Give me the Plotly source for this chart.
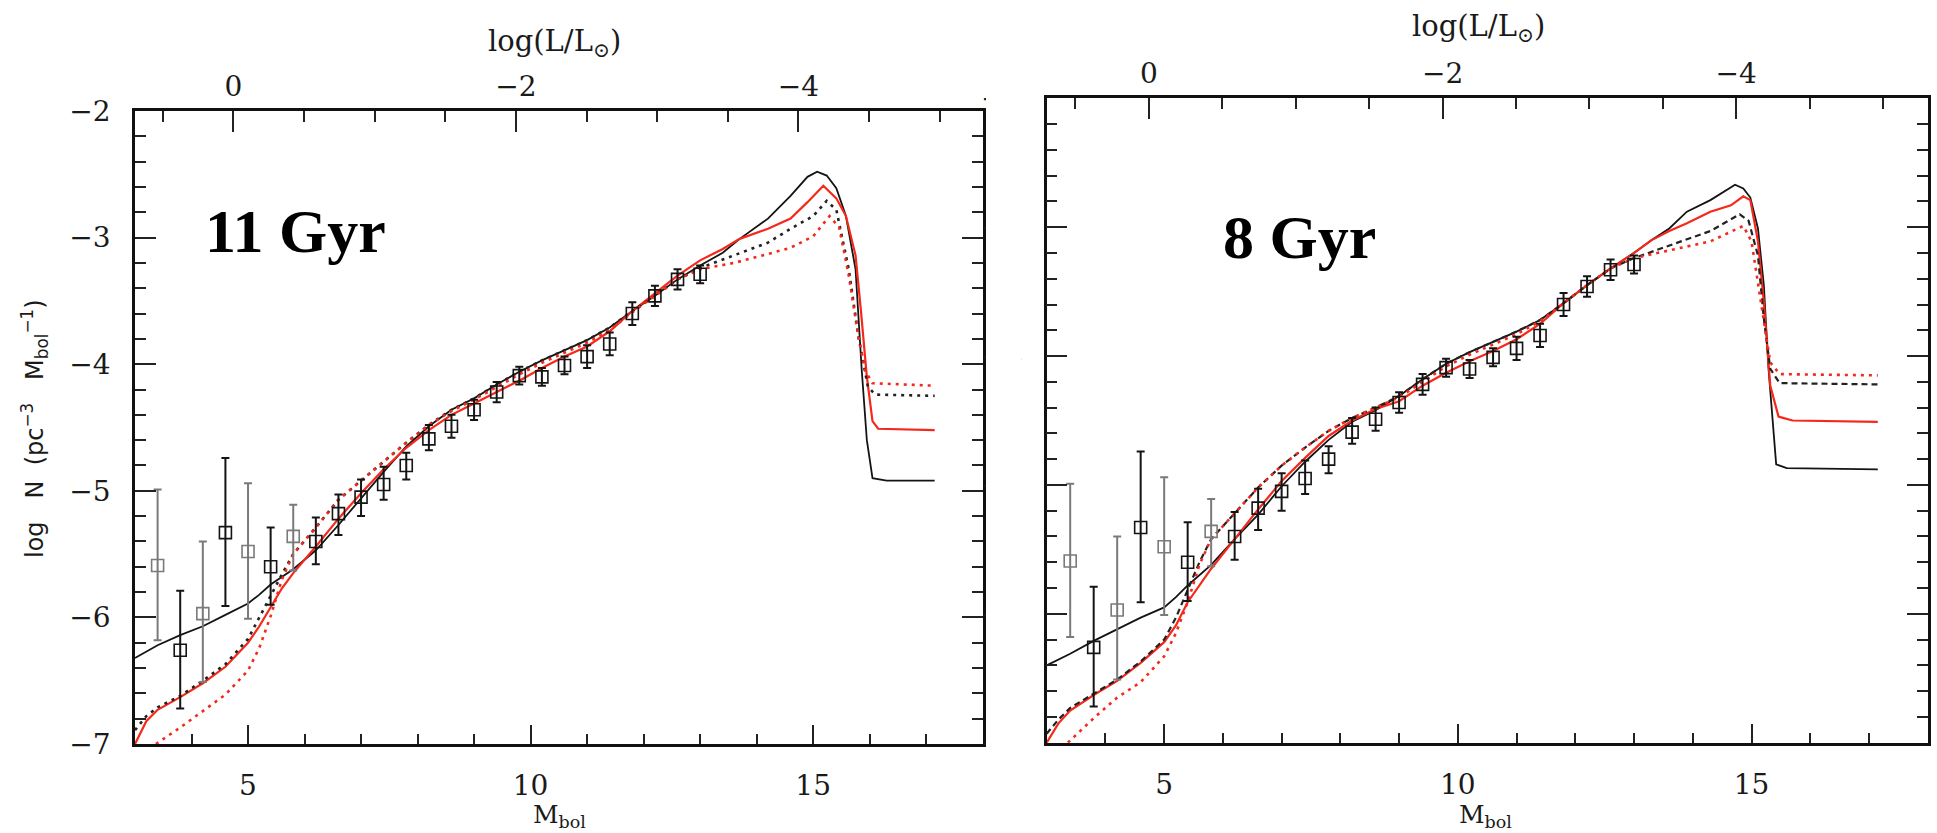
import plotly.graph_objects as go

W, H = 1937, 833

# ---------------- observed luminosity function (same in both panels) ----------------
obs_mbol = [3.4, 3.8, 4.2, 4.6, 5.0, 5.4, 5.8, 6.2, 6.6, 7.0, 7.4, 7.8, 8.2,
            8.6, 9.0, 9.4, 9.8, 10.2, 10.6, 11.0, 11.4, 11.8, 12.2, 12.6, 13.0]
obs_logn = [-5.59, -6.26, -5.97, -5.33, -5.48, -5.60, -5.36, -5.40, -5.18, -5.05, -4.95, -4.80, -4.59,
            -4.49, -4.36, -4.22, -4.09, -4.10, -4.01, -3.94, -3.84, -3.60, -3.46, -3.33, -3.29]
obs_err_plus = [0.60, 0.47, 0.57, 0.59, 0.54, 0.31, 0.25, 0.19, 0.15, 0.14, 0.14, 0.10, 0.11,
                0.09, 0.08, 0.08, 0.07, 0.07, 0.07, 0.09, 0.09, 0.09, 0.08, 0.08, 0.07]
obs_err_minus = [0.59, 0.46, 0.54, 0.58, 0.53, 0.30, 0.27, 0.18, 0.17, 0.15, 0.12, 0.11, 0.09,
                 0.09, 0.08, 0.08, 0.07, 0.07, 0.07, 0.09, 0.09, 0.09, 0.08, 0.08, 0.07]

# ---------------- 11 Gyr models ----------------
a11_black_solid_m = [3.0, 3.4, 3.8, 4.2, 4.6, 5.0, 5.2, 5.4, 5.8, 6.2, 6.6, 7.0, 7.4, 7.8, 8.2, 8.6, 9.0,
                     9.4, 9.8, 10.2, 10.6, 11.0, 11.4, 11.8, 12.2, 12.6, 13.0, 13.4, 13.7, 14.2, 14.6,
                     14.9, 15.07, 15.24, 15.41, 15.58, 15.75, 15.86, 15.95, 16.05, 16.3, 17.15]
a11_black_solid_n = [-6.32, -6.22, -6.14, -6.07, -5.98, -5.89, -5.82, -5.74, -5.62, -5.47, -5.27, -5.06,
                     -4.85, -4.65, -4.49, -4.36, -4.27, -4.16, -4.06, -3.97, -3.89, -3.81, -3.71, -3.58,
                     -3.46, -3.33, -3.22, -3.12, -3.01, -2.85, -2.67, -2.52, -2.48, -2.51, -2.61, -2.83,
                     -3.25, -4.05, -4.60, -4.90, -4.92, -4.92]

a11_red_solid_m = [3.0, 3.2, 3.4, 3.8, 4.2, 4.6, 5.0, 5.2, 5.4, 5.6, 5.8, 6.2, 6.6, 7.0, 7.4, 7.8, 8.2,
                   8.6, 9.0, 9.4, 9.8, 10.2, 10.6, 11.0, 11.4, 11.8, 12.2, 12.6, 13.0, 13.4, 13.7, 14.2,
                   14.6, 14.9, 15.18, 15.41, 15.58, 15.75, 15.85, 15.95, 16.05, 16.15, 17.15]
a11_red_solid_n = [-7.0, -6.82, -6.73, -6.63, -6.52, -6.39, -6.20, -6.07, -5.92, -5.77, -5.65, -5.44,
                   -5.22, -5.02, -4.83, -4.66, -4.52, -4.40, -4.31, -4.22, -4.13, -4.03, -3.94, -3.86,
                   -3.74, -3.58, -3.44, -3.30, -3.18, -3.09, -3.01, -2.93, -2.85, -2.72, -2.59, -2.69,
                   -2.83, -3.14, -3.60, -4.10, -4.45, -4.51, -4.52]

a11_black_dot_m = [3.0, 3.2, 3.4, 3.8, 4.2, 4.6, 5.0, 5.2, 5.4, 5.6, 5.8, 6.2, 6.6, 7.0, 7.4, 7.8, 8.2,
                   8.6, 9.0, 9.4, 9.8, 10.2, 10.6, 11.0, 11.4, 11.8, 12.2, 12.6, 13.0, 13.6, 14.2, 14.6,
                   15.0, 15.24, 15.41, 15.63, 15.8, 15.97, 16.1, 17.15]
a11_black_dot_n = [-6.89, -6.78, -6.71, -6.62, -6.50, -6.37, -6.17, -6.00, -5.82, -5.66, -5.50, -5.29,
                   -5.07, -4.92, -4.77, -4.62, -4.48, -4.36, -4.27, -4.16, -4.06, -3.97, -3.89, -3.81,
                   -3.71, -3.58, -3.46, -3.33, -3.24, -3.14, -3.04, -2.93, -2.83, -2.71, -2.78, -3.25,
                   -3.78, -4.18, -4.24, -4.25]

a11_red_dot_m = [3.37, 3.8, 4.2, 4.6, 5.0, 5.2, 5.4, 5.6, 5.8, 6.2, 6.6, 7.0, 7.4, 7.8, 8.2, 8.6, 9.0,
                 9.4, 9.8, 10.2, 10.6, 11.0, 11.4, 11.8, 12.2, 12.6, 13.0, 13.6, 14.2, 14.6, 15.0, 15.29,
                 15.46, 15.63, 15.8, 15.92, 16.05, 17.15]
a11_red_dot_n = [-7.0, -6.87, -6.74, -6.61, -6.42, -6.24, -5.99, -5.70, -5.50, -5.29, -5.07, -4.92,
                 -4.77, -4.62, -4.48, -4.37, -4.28, -4.18, -4.08, -3.99, -3.91, -3.83, -3.73, -3.59,
                 -3.46, -3.33, -3.25, -3.20, -3.13, -3.08, -2.99, -2.83, -2.92, -3.30, -3.78, -4.05,
                 -4.15, -4.17]

# ---------------- 8 Gyr models ----------------
a8_black_solid_m = [3.0, 3.4, 3.8, 4.2, 4.6, 5.0, 5.2, 5.4, 5.8, 6.2, 6.6, 7.0, 7.4, 7.8, 8.2, 8.6, 9.0,
                    9.4, 9.8, 10.2, 10.6, 11.0, 11.4, 11.8, 12.2, 12.6, 13.0, 13.3, 13.6, 13.9, 14.3,
                    14.72, 14.86, 14.98, 15.11, 15.21, 15.29, 15.42, 15.6, 17.15]
a8_black_solid_n = [-6.40, -6.31, -6.21, -6.12, -6.03, -5.95, -5.87, -5.78, -5.62, -5.42, -5.23, -5.01,
                    -4.82, -4.65, -4.51, -4.42, -4.31, -4.18, -4.06, -3.97, -3.89, -3.81, -3.72, -3.59,
                    -3.45, -3.32, -3.20, -3.10, -3.01, -2.88, -2.79, -2.67, -2.70, -2.77, -3.01, -3.45,
                    -4.10, -4.84, -4.87, -4.88]

a8_red_solid_m = [3.0, 3.2, 3.4, 3.8, 4.2, 4.6, 5.0, 5.2, 5.4, 5.6, 5.8, 6.2, 6.6, 7.0, 7.4, 7.8, 8.2,
                  8.6, 9.0, 9.4, 9.8, 10.2, 10.6, 11.0, 11.4, 11.8, 12.2, 12.6, 13.0, 13.3, 13.6, 13.9,
                  14.3, 14.65, 14.86, 14.98, 15.11, 15.21, 15.32, 15.46, 15.7, 17.15]
a8_red_solid_n = [-7.0, -6.85, -6.75, -6.63, -6.52, -6.38, -6.22, -6.09, -5.91, -5.78, -5.65, -5.42,
                  -5.19, -4.97, -4.79, -4.62, -4.50, -4.41, -4.35, -4.23, -4.13, -4.04, -3.96, -3.87,
                  -3.75, -3.59, -3.45, -3.32, -3.20, -3.10, -3.03, -2.97, -2.88, -2.83, -2.76, -2.79,
                  -3.11, -3.58, -4.23, -4.47, -4.50, -4.51]

a8_black_dash_m = [3.0, 3.2, 3.4, 3.8, 4.2, 4.6, 5.0, 5.2, 5.4, 5.6, 5.8, 6.2, 6.6, 7.0, 7.4, 7.8, 8.2,
                   8.6, 9.0, 9.4, 9.8, 10.2, 10.6, 11.0, 11.4, 11.8, 12.2, 12.6, 13.0, 13.3, 13.8, 14.3,
                   14.8, 14.95, 15.11, 15.21, 15.32, 15.48, 17.15]
a8_black_dash_n = [-6.93, -6.82, -6.73, -6.62, -6.51, -6.37, -6.20, -6.03, -5.82, -5.60, -5.42, -5.22,
                   -5.02, -4.85, -4.71, -4.58, -4.48, -4.40, -4.31, -4.18, -4.06, -3.97, -3.89, -3.81,
                   -3.72, -3.59, -3.45, -3.32, -3.24, -3.19, -3.11, -3.03, -2.90, -2.95, -3.22, -3.71,
                   -4.10, -4.21, -4.22]

a8_red_dot_m = [3.36, 3.8, 4.2, 4.6, 5.0, 5.2, 5.4, 5.6, 5.8, 6.2, 6.6, 7.0, 7.4, 7.8, 8.2, 8.6, 9.0,
                9.4, 9.8, 10.2, 10.6, 11.0, 11.4, 11.8, 12.2, 12.6, 13.0, 13.3, 13.8, 14.3, 14.86, 15.0,
                15.16, 15.32, 15.48, 17.15]
a8_red_dot_n = [-7.0, -6.81, -6.65, -6.53, -6.33, -6.15, -5.91, -5.62, -5.42, -5.22, -5.02, -4.85,
                -4.71, -4.58, -4.48, -4.40, -4.32, -4.20, -4.08, -3.99, -3.91, -3.83, -3.73, -3.59,
                -3.45, -3.32, -3.24, -3.21, -3.16, -3.11, -2.99, -3.11, -3.58, -4.05, -4.14, -4.15]

# ---------------- axes ----------------
MBOL_RANGE = [3, 18]
LOGN_RANGE = [-7, -2]
M_SUN_BOL = 4.74
LOGL_RANGE = [(M_SUN_BOL - MBOL_RANGE[0]) / 2.5, (M_SUN_BOL - MBOL_RANGE[1]) / 2.5]

panel_labels = ["11 Gyr", "8 Gyr"]

BLACK = "#141414"
GREY = "#7a7a7a"
RED = "#f5281c"
TICKC = "#222222"
GREY_IDX = {0, 2, 4, 6}

def px_x(p):
    return p / W

def px_y(p):
    return 1 - p / H

panels = [
    dict(xd=[px_x(135), px_x(982.7)], yd=[px_y(744), px_y(111)], xb="x", xt="x2", ya="y",
         curves=[(a11_black_solid_m, a11_black_solid_n, BLACK, "solid", 1.8),
                 (a11_red_solid_m, a11_red_solid_n, RED, "solid", 2.2),
                 (a11_black_dot_m, a11_black_dot_n, "#222222", "3px,5px", 2.6),
                 (a11_red_dot_m, a11_red_dot_n, RED, "3px,5px", 2.6)],
         label_xy=(203, 231)),
    dict(xd=[px_x(1046.7), px_x(1927.7)], yd=[px_y(742.7), px_y(98.3)], xb="x3", xt="x4", ya="y2",
         curves=[(a8_black_solid_m, a8_black_solid_n, BLACK, "solid", 1.8),
                 (a8_red_solid_m, a8_red_solid_n, RED, "solid", 2.2),
                 (a8_black_dash_m, a8_black_dash_n, "#222222", "6px,4px", 2.2),
                 (a8_red_dot_m, a8_red_dot_n, RED, "3px,5px", 2.6)],
         label_xy=(1221, 237)),
]

fig = go.Figure()

for pi, p in enumerate(panels):
    for (mx, ny, col, dash, lw) in p["curves"]:
        fig.add_trace(go.Scatter(x=mx, y=ny, mode="lines", xaxis=p["xb"], yaxis=p["ya"],
                                 line=dict(color=col, width=lw, dash=dash), showlegend=False,
                                 hoverinfo="skip"))
    for grey in (True, False):
        idx = [i for i in range(len(obs_mbol)) if (i in GREY_IDX) == grey]
        col = GREY if grey else BLACK
        fig.add_trace(go.Scatter(
            x=[obs_mbol[i] for i in idx], y=[obs_logn[i] for i in idx], mode="markers",
            xaxis=p["xb"], yaxis=p["ya"], showlegend=False,
            marker=dict(symbol="square-open", size=12, color=col, line=dict(width=1.6, color=col)),
            error_y=dict(type="data", symmetric=False,
                         array=[obs_err_plus[i] for i in idx],
                         arrayminus=[obs_err_minus[i] for i in idx],
                         color=col, thickness=2, width=4)))
    # helper trace so the top (luminosity) axis exists
    fig.add_trace(go.Scatter(x=[LOGL_RANGE[0]], y=[LOGN_RANGE[0] - 5], mode="markers",
                             xaxis=p["xt"], yaxis=p["ya"], showlegend=False, hoverinfo="skip",
                             marker=dict(opacity=0)))

common = dict(showline=True, linecolor="#111111", linewidth=2.5, ticks="inside", tickcolor=TICKC,
              tickwidth=2, showgrid=False, zeroline=False, automargin=False,
              tickfont=dict(family="DejaVu Serif", size=28, color="#1a1a1a"))

layout_axes = {}
for pi, p in enumerate(panels):
    bn = "xaxis" if p["xb"] == "x" else "xaxis" + p["xb"][1:]
    tn = "xaxis" + p["xt"][1:]
    yn = "yaxis" if p["ya"] == "y" else "yaxis" + p["ya"][1:]
    layout_axes[bn] = dict(common, domain=p["xd"], anchor=p["ya"], range=MBOL_RANGE,
                           tickmode="linear", tick0=0, dtick=5, ticklen=19, mirror=False,
                           ticklabelstandoff=15,
                           minor=dict(tick0=0, dtick=1, ticklen=10, ticks="inside",
                                      tickwidth=2, tickcolor=TICKC, showgrid=False))
    layout_axes[tn] = dict(common, overlaying=p["xb"], side="top", anchor=p["ya"],
                           range=LOGL_RANGE, tickmode="linear", tick0=0, dtick=2, ticklen=21,
                           ticklabelstandoff=1,
                           minor=dict(tick0=0, dtick=0.5, ticklen=11, ticks="inside",
                                      tickwidth=2, tickcolor=TICKC, showgrid=False))
    layout_axes[yn] = dict(common, domain=p["yd"], anchor=p["xb"], range=LOGN_RANGE,
                           tickmode="linear", tick0=0, dtick=1, ticklen=21, mirror="ticks",
                           ticklabelstandoff=16,
                           minor=dict(tick0=0, dtick=0.2, ticklen=11, ticks="inside",
                                      tickwidth=2, tickcolor=TICKC, showgrid=False))

annotations = []
for pi, p in enumerate(panels):
    lx, ly = p["label_xy"]
    annotations.append(dict(xref="paper", yref="paper", x=px_x(lx), y=px_y(ly),
                            xanchor="left", yanchor="middle", showarrow=False,
                            text="<b>" + panel_labels[pi] + "</b>",
                            font=dict(family="Liberation Serif", size=62, color="black")))

title_pos = [((554, 43), 559), ((1478, 28), 1485)]
for (tx, ty), bx in title_pos:
    annotations.append(dict(xref="paper", yref="paper", x=px_x(tx), y=px_y(ty),
                            xanchor="center", yanchor="middle", showarrow=False,
                            text="log(L/L<sub>⊙</sub>)",
                            font=dict(family="DejaVu Serif", size=29, color="#1a1a1a")))
    annotations.append(dict(xref="paper", yref="paper", x=px_x(bx), y=0.0,
                            xanchor="center", yanchor="bottom", showarrow=False,
                            text="M<sub>bol</sub>", borderpad=0,
                            font=dict(family="DejaVu Serif", size=25, color="#1a1a1a")))

NB = "\u00a0"
ylab = ("log" + NB * 3 + "N" + NB * 2 + "(pc<sup>−3</sup>" + NB * 3 +
        "M<sub>bol</sub><sup>−1</sup>)")
annotations.append(dict(xref="paper", yref="paper", x=px_x(34), y=px_y(429),
                        xanchor="center", yanchor="middle", showarrow=False, textangle=-90,
                        text=ylab, font=dict(family="DejaVu Sans", size=24, color="#1a1a1a")))

# the right panel's y tick labels are cropped in the reference
shapes = [dict(type="rect", xref="paper", yref="paper", x0=px_x(986), x1=px_x(1021), y0=0, y1=1,
               fillcolor="white", line=dict(width=0), layer="above")]

fig.update_layout(width=W, height=H, autosize=False, margin=dict(l=0, r=0, t=0, b=0, pad=0),
                  paper_bgcolor="white", plot_bgcolor="white", annotations=annotations,
                  shapes=shapes, **layout_axes)

fig.write_html("out.html")
